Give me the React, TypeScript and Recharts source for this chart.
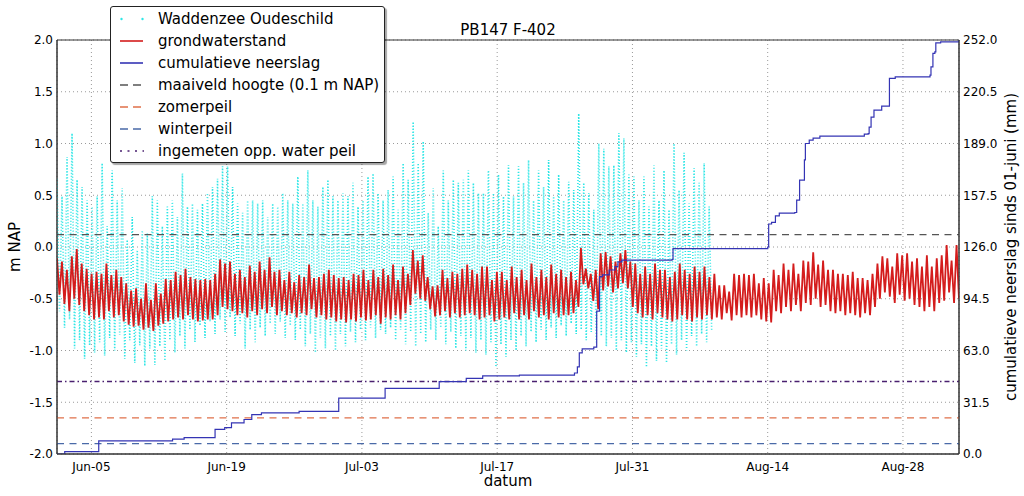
import React from 'react';
import {
  ComposedChart,
  Line,
  XAxis,
  YAxis,
  CartesianGrid,
  ReferenceLine,
  ReferenceArea,
} from 'recharts';

// x axis: days since 1 June
const dateTicks = [4, 18, 32, 46, 60, 74, 88];
const dateTickLabels = ['Jun-05', 'Jun-19', 'Jul-03', 'Jul-17', 'Jul-31', 'Aug-14', 'Aug-28'];
const leftTicks = [-2, -1.5, -1, -0.5, 0, 0.5, 1, 1.5, 2];
const rightTicks = [0, 31.5, 63, 94.5, 126, 157.5, 189, 220.5, 252];

const xStart = 0.44;
const xEnd = 93.8;
const tideEnd = 68.2;

// grondwaterstand: alternating high / low turning points (m NAP)
const groundwater = [
  -0.11, -0.46, -0.14, -0.55, -0.22, -0.62, -0.09, -0.5, -0.02, -0.56, -0.16, -0.62, -0.21, -0.66, -0.26, -0.7, -0.24, -0.68, -0.26, -0.7,
  -0.16, -0.62, -0.27, -0.68, -0.22, -0.66, -0.29, -0.72, -0.35, -0.75, -0.42, -0.77, -0.4, -0.76, -0.5, -0.8, -0.35, -0.78, -0.51, -0.81,
  -0.35, -0.76, -0.45, -0.74, -0.31, -0.72, -0.32, -0.7, -0.24, -0.68, -0.27, -0.7, -0.21, -0.66, -0.29, -0.7, -0.31, -0.72, -0.32, -0.71,
  -0.31, -0.7, -0.32, -0.7, -0.26, -0.66, -0.12, -0.58, -0.16, -0.6, -0.14, -0.62, -0.26, -0.66, -0.22, -0.64, -0.29, -0.68, -0.18, -0.62,
  -0.24, -0.66, -0.14, -0.6, -0.22, -0.64, -0.1, -0.58, -0.24, -0.66,
  -0.22, -0.62, -0.32, -0.66, -0.24, -0.64, -0.34, -0.68, -0.27, -0.64, -0.29, -0.66, -0.17, -0.6, -0.3, -0.68, -0.29, -0.66, -0.26, -0.7,
  -0.22, -0.68, -0.27, -0.72, -0.3, -0.7, -0.29, -0.73, -0.32, -0.7, -0.26, -0.72, -0.27, -0.68, -0.22, -0.71, -0.32, -0.7, -0.22, -0.66,
  -0.29, -0.74, -0.21, -0.68, -0.27, -0.7, -0.17, -0.66, -0.32, -0.7, -0.19, -0.64, -0.26, -0.56, -0.03, -0.45, -0.13, -0.5, -0.08, -0.52,
  -0.29, -0.6, -0.38, -0.67, -0.37, -0.66, -0.22, -0.62, -0.3, -0.68, -0.24, -0.64, -0.26, -0.68, -0.21, -0.66, -0.17, -0.64, -0.22, -0.66,
  -0.26, -0.7, -0.19, -0.68, -0.19, -0.66, -0.32, -0.72, -0.24, -0.7,
  -0.24, -0.68, -0.32, -0.7, -0.19, -0.64, -0.29, -0.7, -0.22, -0.66, -0.32, -0.7, -0.16, -0.62, -0.29, -0.68, -0.22, -0.66, -0.29, -0.7,
  -0.17, -0.64, -0.26, -0.68, -0.22, -0.66, -0.29, -0.66, -0.24, -0.64, -0.32, -0.58, -0.01, -0.36, -0.21, -0.4, -0.26, -0.52, -0.22, -0.6,
  -0.06, -0.42, -0.05, -0.38, -0.09, -0.44, -0.14, -0.4, -0.06, -0.35, -0.03, -0.4, -0.14, -0.58, -0.16, -0.64, -0.26, -0.68, -0.19, -0.66,
  -0.26, -0.7, -0.16, -0.64, -0.22, -0.68, -0.22, -0.7, -0.29, -0.72, -0.24, -0.7, -0.16, -0.66, -0.22, -0.7, -0.26, -0.72, -0.19, -0.68,
  -0.24, -0.7, -0.19, -0.66, -0.29, -0.7, -0.26, -0.68, -0.37, -0.7,
  -0.37, -0.64, -0.43, -0.71, -0.26, -0.66, -0.27, -0.68, -0.26, -0.66, -0.27, -0.68, -0.26, -0.66, -0.35, -0.7, -0.3, -0.72, -0.35, -0.73,
  -0.22, -0.62, -0.27, -0.64, -0.16, -0.58, -0.22, -0.62, -0.16, -0.56, -0.26, -0.62, -0.13, -0.54, -0.14, -0.56, -0.05, -0.5, -0.17, -0.58,
  -0.13, -0.56, -0.22, -0.62, -0.22, -0.64, -0.26, -0.62, -0.26, -0.66, -0.27, -0.64, -0.24, -0.66, -0.3, -0.68, -0.3, -0.64, -0.32, -0.66,
  -0.26, -0.58, -0.16, -0.5, -0.09, -0.44, -0.11, -0.48, -0.19, -0.54, -0.06, -0.46, -0.08, -0.52, -0.06, -0.5, -0.14, -0.56, -0.11, -0.58,
  -0.19, -0.62, -0.08, -0.58, -0.19, -0.62, -0.11, -0.54, -0.08, -0.52, 0.02, -0.44, -0.13, -0.54, 0.02, -0.5,
];

// Waddenzee Oudeschild: alternating high / low water (m NAP)
const seaLevel = [
  0.66, -0.62, 0.49, -0.78, 0.87, -0.7, 1.1, -0.98, 0.65, -0.9, 0.58, -1.08, 0.45, -0.95, 0.39, -1.02, 0.49, -0.92, 0.81, -1.05,
  0.2, -0.88, 0.74, -1.0, 0.45, -0.85, 0.57, -1.08, 0.07, -0.9, 0.29, -1.12, -0.03, -0.95, 0.16, -1.15, 0.13, -0.98, 0.49, -1.14,
  0.45, -0.96, 0.2, -1.1, 0.39, -0.9, 0.45, -1.02, 0.29, -0.86, 0.71, -0.98, 0.39, -0.8, 0.42, -0.92, 0.36, -0.76, 0.42, -0.88,
  0.52, -0.72, 0.58, -0.84, 0.66, -0.7, 0.78, -0.82, 0.78, -0.68, 0.58, -0.86, 0.42, -0.74, 0.33, -0.98, 0.45, -0.8, 0.45, -0.92,
  0.42, -0.78, 0.45, -0.86, 0.29, -0.74, 0.42, -0.84, 0.39, -0.72, 0.52, -0.88, 0.45, -0.76, 0.42, -0.9, 0.68, -0.8, 0.42, -0.96,
  0.74, -0.84, 0.45, -1.02, 0.39, -0.88, 0.58, -0.98, 0.65, -0.86, 0.49, -1.0, 0.45, -0.84, 0.52, -0.96, 0.49, -0.82, 0.62, -0.92,
  0.39, -0.8, 0.45, -0.9, 0.68, -0.78, 0.71, -0.88, 0.52, -0.8,
  0.45, -0.84, 0.55, -0.78, 0.68, -0.9, 0.36, -0.8, 0.81, -0.94, 0.65, -0.82, 1.21, -0.96, 0.81, -0.84, 1.02, -0.92, 0.33, -0.8,
  0.57, -0.9, 0.2, -0.78, 0.74, -0.94, 0.45, -0.82, 0.65, -0.98, 0.62, -0.86, 0.65, -1.0, 0.74, -0.88, 0.62, -1.02, 0.52, -0.9,
  0.52, -1.04, 0.74, -0.92, 0.52, -1.16, 0.7, -0.94, 0.49, -1.06, 0.79, -0.9, 0.49, -1.0, 0.78, -0.86, 0.62, -0.96, 0.84, -0.82,
  0.45, -0.92, 0.74, -0.8, 0.58, -0.9, 0.84, -0.78, 0.49, -0.88, 0.7, -0.76, 0.45, -0.86, 0.63, -0.74, 0.55, -0.84, 1.29, -0.8,
  0.62, -0.9, 0.52, -0.82, 0.36, -0.92, 1.0, -0.86, 0.95, -0.96, 0.78, -0.88, 0.79, -1.0, 1.1, -0.9, 1.05, -1.02, 0.7, -0.92,
  0.68, -1.06, 0.45, -0.94, 0.68, -1.16, 0.39, -0.96, 0.79, -1.1, 0.45, -0.98, 0.74, -1.12, 0.36, -0.94, 1.0, -1.04, 0.55, -0.9,
  0.91, -1.0, 0.42, -0.86, 0.76, -0.96, 0.62, -0.84, 0.81, -0.92, 0.39, -0.8,
];

// cumulatieve neerslag (mm) at given days since 1 June (value holds until the next day listed)
const rainDays = [
  0.44, 1.24, 4.76, 12.4, 13.6, 16.8, 17.8, 18.5, 19.8, 20.6, 21.6, 25.5, 29.6, 34.4, 40.0, 42.8, 44.5, 48.3, 54.0, 54.3,
  54.5, 54.8, 56.0, 56.3, 56.6, 56.9, 57.6, 58.2, 58.5, 58.9, 64.1, 64.2, 74.0, 74.1, 74.4, 74.8, 75.2, 76.8, 77.0, 77.3,
  77.8, 77.9, 78.3, 78.7, 79.4, 83.8, 84.0, 84.4, 84.5, 84.7, 85.0, 85.8, 86.5, 86.6, 87.2, 90.8, 90.9, 91.1, 91.3, 91.4,
  91.9, 93.8,
];
const rainMm = [
  0, 1.5, 8, 9, 10, 15, 16, 19, 21, 24, 25, 26, 34, 40, 44, 46, 47.5, 48, 49.3, 53,
  61.5, 64, 65, 87, 108, 109, 112, 114, 117, 118, 118.4, 125, 126, 140, 141, 145, 146.6, 147, 154.5, 166.7,
  179, 189, 191, 192.3, 193.5, 193.5, 194.7, 195, 199, 205, 209.3, 211.7, 211.7, 228.6, 229.6, 230.6, 235.7, 243.8, 244.8, 250.3,
  250.9, 252,
];

const levelMaaiveld = 0.12;
const levelZomer = -1.65;
const levelWinter = -1.9;
const levelOppWater = -1.3;

const gwData = groundwater.map((v, i) => ({
  t: xStart + (i * (xEnd - xStart)) / (groundwater.length - 1),
  v,
}));
const seaData = seaLevel.map((v, i) => ({
  t: xStart + (i * (tideEnd - xStart)) / (seaLevel.length - 1),
  v,
}));
const rainData = rainDays.map((t, i) => ({ t, r: rainMm[i] }));

const FONT = '"DejaVu Sans", Verdana, sans-serif';

const CYAN = '#2ee6e6';
const RED = '#d41c1c';
const BLUE = '#3434b4';
const GREY = '#555555';
const ORANGE = '#e0704a';
const STEEL = '#4a6aa8';
const PURPLE = '#4a2070';

const legendItems = [
  { label: 'Waddenzee Oudeschild', kind: 'dots', color: CYAN },
  { label: 'grondwaterstand', kind: 'line', color: RED },
  { label: 'cumulatieve neerslag', kind: 'line', color: BLUE },
  { label: 'maaiveld hoogte (0.1 m NAP)', kind: 'dash', color: GREY },
  { label: 'zomerpeil', kind: 'dash', color: ORANGE },
  { label: 'winterpeil', kind: 'dash', color: STEEL },
  { label: 'ingemeten opp. water peil', kind: 'dashdot', color: PURPLE },
];

function Handle({ kind, color }: { kind: string; color: string }) {
  return (
    <svg width={24} height={10} style={{ display: 'block' }}>
      {kind === 'dots' && (
        <>
          <circle cx={1.5} cy={5} r={1.2} fill={color} />
          <circle cx={22.5} cy={5} r={1.2} fill={color} />
        </>
      )}
      {kind === 'line' && <line x1={0} y1={5} x2={23} y2={5} stroke={color} strokeWidth={1.6} />}
      {kind === 'dash' && (
        <line x1={0} y1={5} x2={22} y2={5} stroke={color} strokeWidth={1.3} strokeDasharray="8 5" />
      )}
      {kind === 'dashdot' && (
        <line x1={0} y1={5} x2={24} y2={5} stroke={color} strokeWidth={1.5} strokeDasharray="2 5.5" />
      )}
    </svg>
  );
}

export default function App() {
  return (
    <div
      style={{
        position: 'absolute',
        left: 0,
        top: 0,
        width: 1024,
        height: 496,
        background: '#fff',
        fontFamily: FONT,
      }}
    >
      <ComposedChart width={1024} height={496} margin={{ top: 40, right: 0, bottom: 0, left: 0 }}>
        <CartesianGrid xAxisId="x" yAxisId="left" stroke="#9a9a9a" strokeDasharray="1 3" />
        <XAxis
          xAxisId="x"
          type="number"
          dataKey="t"
          domain={[xStart, xEnd]}
          allowDataOverflow
          ticks={dateTicks}
          tickFormatter={(v: number) => dateTickLabels[dateTicks.indexOf(v)] ?? ''}
          tickLine={false}
          tickSize={0}
          tickMargin={8}
          height={42}
          axisLine={{ stroke: '#333', strokeWidth: 1 }}
          tick={{ fill: '#000', fontSize: 12, fontFamily: FONT }}
        />
        <YAxis
          yAxisId="left"
          type="number"
          domain={[-2, 2]}
          allowDataOverflow
          ticks={leftTicks}
          tickFormatter={(v: number) => v.toFixed(1)}
          width={57}
          tickLine={false}
          tickSize={0}
          tickMargin={4}
          axisLine={{ stroke: '#333', strokeWidth: 1 }}
          tick={{ fill: '#000', fontSize: 12, fontFamily: FONT }}
        />
        <YAxis
          yAxisId="right"
          orientation="right"
          type="number"
          domain={[0, 252]}
          allowDataOverflow
          ticks={rightTicks}
          tickFormatter={(v: number) => v.toFixed(1)}
          width={65}
          tickLine={false}
          tickSize={0}
          tickMargin={4}
          axisLine={{ stroke: '#333', strokeWidth: 1 }}
          tick={{ fill: '#000', fontSize: 12, fontFamily: FONT, textAnchor: 'start' }}
        />
        <Line
          xAxisId="x"
          yAxisId="left"
          data={seaData}
          dataKey="v"
          type="linear"
          stroke={CYAN}
          strokeWidth={1.6}
          strokeDasharray="1 2"
          dot={false}
          isAnimationActive={false}
        />
        <Line
          xAxisId="x"
          yAxisId="left"
          data={gwData}
          dataKey="v"
          type="linear"
          stroke={RED}
          strokeWidth={1.8}
          dot={false}
          isAnimationActive={false}
        />
        <ReferenceLine xAxisId="x" yAxisId="left" y={levelMaaiveld} stroke={GREY} strokeWidth={1.2} strokeDasharray="7 5.5" />
        <ReferenceLine xAxisId="x" yAxisId="left" y={levelZomer} stroke={ORANGE} strokeWidth={1.2} strokeDasharray="7 5.5" />
        <ReferenceLine xAxisId="x" yAxisId="left" y={levelWinter} stroke={STEEL} strokeWidth={1.2} strokeDasharray="7 5.5" />
        <ReferenceLine xAxisId="x" yAxisId="left" y={levelOppWater} stroke={PURPLE} strokeWidth={1.5} strokeDasharray="5 3 1.5 3" />
        <Line
          xAxisId="x"
          yAxisId="right"
          data={rainData}
          dataKey="r"
          type="stepAfter"
          stroke={BLUE}
          strokeWidth={1.2}
          dot={false}
          isAnimationActive={false}
        />
        <ReferenceArea
          xAxisId="x"
          yAxisId="left"
          x1={xStart}
          x2={xEnd}
          y1={-2}
          y2={2}
          fill="none"
          fillOpacity={0}
          stroke="#333"
          strokeWidth={1}
        />
      </ComposedChart>

      <div
        style={{
          position: 'absolute',
          left: 508,
          top: 30,
          transform: 'translate(-50%, -50%)',
          fontSize: 15,
          whiteSpace: 'nowrap',
          color: '#000',
        }}
      >
        PB147 F-402
      </div>
      <div
        style={{
          position: 'absolute',
          left: 508,
          top: 481,
          transform: 'translate(-50%, -50%)',
          fontSize: 15,
          whiteSpace: 'nowrap',
          color: '#000',
        }}
      >
        datum
      </div>
      <div
        style={{
          position: 'absolute',
          left: 15,
          top: 247,
          transform: 'translate(-50%, -50%) rotate(-90deg)',
          fontSize: 15,
          whiteSpace: 'nowrap',
          color: '#000',
        }}
      >
        m NAP
      </div>
      <div
        style={{
          position: 'absolute',
          left: 1011,
          top: 247,
          transform: 'translate(-50%, -50%) rotate(-90deg)',
          fontSize: 15,
          whiteSpace: 'nowrap',
          color: '#000',
        }}
      >
        cumulatieve neerslag sinds 01-juni (mm)
      </div>

      <div
        style={{
          position: 'absolute',
          left: 110,
          top: 6,
          width: 275,
          height: 157,
          background: '#fff',
          border: '1px solid #222',
          borderRadius: 3,
          boxShadow: '2px 2px 1px rgba(0,0,0,0.35)',
          boxSizing: 'border-box',
        }}
      >
        {legendItems.map((it, i) => (
          <div
            key={it.label}
            style={{
              position: 'absolute',
              left: 9,
              top: 12 + i * 22 - 10,
              height: 20,
              display: 'flex',
              alignItems: 'center',
              whiteSpace: 'nowrap',
              fontSize: 15,
              color: '#000',
            }}
          >
            <Handle kind={it.kind} color={it.color} />
            <span style={{ marginLeft: 14 }}>{it.label}</span>
          </div>
        ))}
      </div>
    </div>
  );
}
